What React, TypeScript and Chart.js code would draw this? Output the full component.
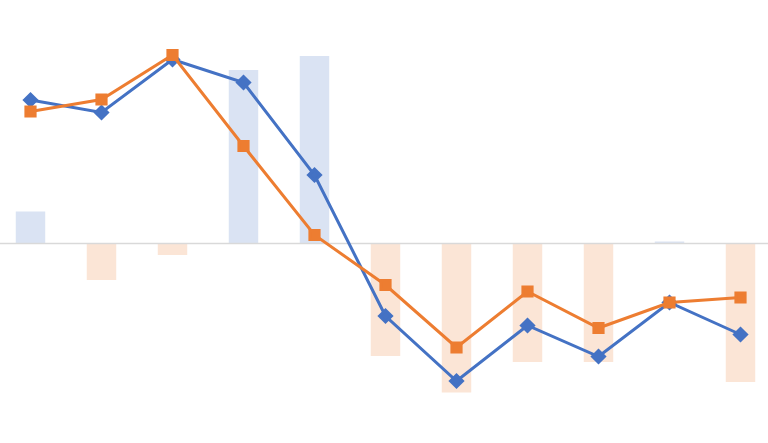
import React, { useEffect, useRef } from "react";
import { Chart, registerables } from "chart.js";

Chart.register(...registerables);

const categories = ["1", "2", "3", "4", "5", "6", "7", "8", "9", "10", "11"];
const barValues = [3.2, -3.65, -1.15, 17.35, 18.75, -11.25, -14.9, -11.85, -11.85, 0.2, -13.85];
const blueValues = [14.35, 13.1, 18.4, 16.1, 6.85, -7.25, -13.75, -8.2, -11.3, -5.9, -9.1];
const orangeValues = [13.2, 14.4, 18.85, 9.75, 0.85, -4.15, -10.4, -4.8, -8.45, -5.9, -5.4];

// zero line across the whole canvas, drawn over the bars but under the lines
const zeroLine = {
  id: "zeroLine",
  beforeDatasetDraw(chart: Chart, args: { index: number }) {
    if (args.index !== 1) return;
    const y = chart.scales.y.getPixelForValue(0);
    const ctx = chart.ctx;
    ctx.save();
    ctx.strokeStyle = "#D9D9D9";
    ctx.lineWidth = 1.5;
    ctx.beginPath();
    ctx.moveTo(0, y);
    ctx.lineTo(chart.width, y);
    ctx.stroke();
    ctx.restore();
  },
};

export default function App() {
  const canvasRef = useRef<HTMLCanvasElement>(null);

  useEffect(() => {
    if (!canvasRef.current) return;
    const chart = new Chart(canvasRef.current, {
      type: "bar",
      data: {
        labels: categories,
        datasets: [
          {
            type: "line",
            label: "orange",
            data: orangeValues,
            borderColor: "#ED7D31",
            backgroundColor: "#ED7D31",
            borderWidth: 3,
            pointStyle: "rect",
            pointRadius: 6.5,
            tension: 0,
            order: 0,
          },
          {
            type: "line",
            label: "blue",
            data: blueValues,
            borderColor: "#4472C4",
            backgroundColor: "#4472C4",
            borderWidth: 3,
            pointStyle: "rectRot",
            pointRadius: 6,
            tension: 0,
            order: 1,
          },
          {
            type: "bar",
            label: "diff",
            data: barValues,
            backgroundColor: barValues.map((v) => (v >= 0 ? "#DAE3F3" : "#FBE5D6")),
            borderWidth: 0,
            barPercentage: 0.83,
            categoryPercentage: 0.5,
            order: 2,
          },
        ],
      },
      options: {
        animation: false,
        responsive: true,
        maintainAspectRatio: false,
        layout: { padding: 0, autoPadding: false },
        plugins: { legend: { display: false }, tooltip: { enabled: false } },
        scales: {
          x: { display: false, offset: true },
          y: {
            min: -19.95,
            max: 24.35,
            afterFit: (scale) => {
              scale.width = 0;
            },
            ticks: { display: false },
            border: { display: false },
            grid: { display: false },
          },
        },
      },
      plugins: [zeroLine],
    });
    return () => chart.destroy();
  }, []);

  return (
    <div style={{ position: "fixed", left: 0, top: 0, width: 768, height: 443, overflow: "hidden", background: "#fff" }}>
      <div style={{ position: "absolute", left: -5.5, top: 0, width: 781, height: 443 }}>
        <canvas ref={canvasRef}></canvas>
      </div>
    </div>
  );
}
